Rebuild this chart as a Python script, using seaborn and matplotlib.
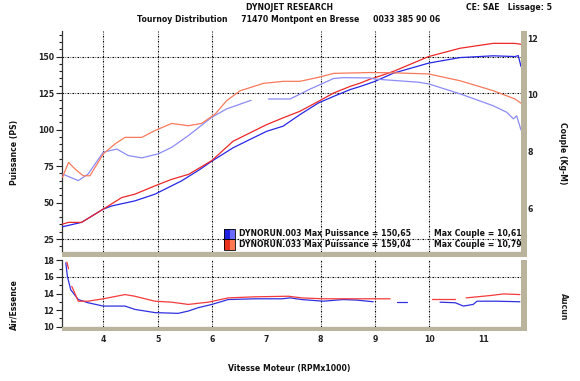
import numpy as np
import pandas as pd
import matplotlib
matplotlib.use("Agg")
import matplotlib.pyplot as plt
import seaborn as sns
from matplotlib.patches import Rectangle
from matplotlib.ticker import MultipleLocator

nan = np.nan

# ---------------- data ----------------
rpm_pw_003 = [3.25, 3.60, 4.0, 4.16, 4.58, 4.95, 5.44, 5.78, 6.0, 6.39, 6.70, 7.01, 7.31, 7.62,
              7.96, 8.24, 8.54, 8.73, 8.91, 9.0, 9.34, 9.99, 10.57, 11.18, 11.58, 11.64, 11.69]
pw_003 = [33.4, 36.4, 45.5, 47.7, 51.1, 55.7, 64.8, 72.7, 78.4, 87.5, 93.2, 98.8, 102.3, 110.2,
          118.2, 122.7, 127.3, 129.5, 131.8, 133.0, 138.6, 145.5, 149.3, 150.5, 150.0, 150.65, 143.2]

rpm_pw_033 = [3.25, 3.36, 3.60, 4.0, 4.34, 4.58, 4.95, 5.26, 5.57, 5.78, 6.0, 6.39, 6.70, 7.01,
              7.31, 7.62, 7.96, 8.24, 8.54, 8.73, 8.91, 9.0, 9.34, 9.99, 10.57, 11.18, 11.58, 11.69]
pw_033 = [35.2, 36.4, 36.4, 45.5, 53.4, 55.7, 61.4, 65.9, 69.3, 73.9, 78.8, 92.0, 97.7, 103.4,
          108.0, 112.5, 119.3, 125.0, 129.5, 131.8, 134.5, 135.5, 139.8, 150.0, 155.7, 159.04, 159.0, 158.4]

rpm_tq_033 = [3.25, 3.36, 3.48, 3.63, 3.755, 4.0, 4.215, 4.40, 4.71, 4.95, 5.26, 5.565, 5.81, 6.06,
              6.27, 6.52, 6.95, 7.31, 7.62, 7.96, 8.24, 8.91, 9.34, 9.99, 10.57, 11.18, 11.58, 11.69]
tq_033 = [7.11, 7.63, 7.40, 7.16, 7.16, 7.93, 8.28, 8.51, 8.51, 8.75, 9.0, 8.92, 9.0, 9.33,
          9.80, 10.15, 10.41, 10.48, 10.48, 10.62, 10.76, 10.79, 10.78, 10.74, 10.50, 10.15, 9.86, 9.71]

rpm_tq_003 = [3.25, 3.54, 3.72, 4.0, 4.25, 4.46, 4.71, 5.01, 5.26, 5.565, 6.0, 6.27, 6.70, 6.72,
              6.85, 7.04, 7.44, 7.81, 8.24, 8.42, 8.91, 9.0, 9.80, 9.99, 10.57, 11.18, 11.43, 11.55,
              11.61, 11.69]
tq_003 = [7.22, 6.99, 7.22, 7.99, 8.10, 7.87, 7.79, 7.93, 8.16, 8.57, 9.22, 9.51, 9.80, 9.81,
          nan, 9.86, 9.86, 10.21, 10.58, 10.61, 10.60, 10.56, 10.45, 10.39, 10.04, 9.62, 9.39, 9.16,
          9.27, 8.77]

rpm_afr_003 = [3.31, 3.34, 3.40, 3.54, 3.72, 4.0, 4.40, 4.58, 4.95, 5.38, 5.565, 5.75, 6.0, 6.30,
               6.79, 7.29, 7.44, 7.65, 8.05, 8.42, 8.67, 8.97, 9.1, 9.40, 9.59, 9.8, 10.20, 10.48,
               10.63, 10.81, 10.88, 11.24, 11.67]
afr_003 = [17.7, 16.05, 14.46, 13.27, 12.88, 12.48, 12.48, 12.08, 11.69, 11.6, 11.88, 12.29, 12.68,
           13.27, 13.36, 13.36, 13.47, 13.27, 13.07, 13.27, 13.2, 13.0, nan, 12.95, 12.95, nan,
           12.95, 12.88, 12.48, 12.68, 13.07, 13.07, 13.0]

rpm_afr_033 = [3.33, 3.36, 3.38, 3.42, 3.54, 3.72, 4.0, 4.40, 4.58, 4.95, 5.26, 5.565, 5.93, 6.30,
               6.79, 7.41, 7.65, 8.05, 8.67, 9.28, 9.6, 10.05, 10.48, 10.58, 10.68, 11.12, 11.37, 11.67]
afr_033 = [17.8, 17.0, nan, 14.86, 13.07, 13.07, 13.36, 13.87, 13.67, 13.07, 12.95, 12.68, 12.95,
           13.47, 13.6, 13.67, 13.47, 13.36, 13.36, 13.36, nan, 13.36, 13.36, nan, 13.47, 13.75,
           13.95, 13.87]

runs = ["DYNORUN.003", "DYNORUN.033"]
max_pw = ["150,65", "159,04"]
max_tq = ["10,61", "10,79"]

x_ticks = [4, 5, 6, 7, 8, 9, 10, 11]
pw_ticks = [25, 50, 75, 100, 125, 150]
tq_ticks = [6, 8, 10, 12]
afr_ticks = [10, 12, 14, 16, 18]

# ---------------- style ----------------
sns.set_theme(style="white")
plt.rcParams["font.family"] = ["DejaVu Sans"]
plt.rcParams["font.weight"] = "bold"
FS = 5.6
BEIGE = "#b9b49b"
C_PW_B, C_PW_R = "#2727e6", "#ec2828"
C_TQ_B, C_TQ_R = "#8c8cf5", "#f87a5c"
C_AF_B, C_AF_R = "#3030e0", "#f43a3a"
GRID = dict(color="black", lw=0.8, ls=(0, (1.5, 1.2, 0.6, 1.2)), zorder=1)

W, H = 580, 381
fig = plt.figure(figsize=(W / 100, H / 100), dpi=100)
fig.patch.set_facecolor("white")


def rect(l, t, r, b):
    return [l / W, 1 - b / H, (r - l) / W, (b - t) / H]


ax = fig.add_axes(rect(62, 31, 521, 252))
ax2 = ax.twinx()
axl = fig.add_axes(rect(62, 260, 521, 327))


def draw(axis, xs, ys, color, lw=0.9):
    df = pd.DataFrame({"x": xs, "y": ys})
    df["seg"] = df["y"].isna().cumsum()
    df = df.dropna()
    sns.lineplot(data=df, x="x", y="y", units="seg", estimator=None, sort=False,
                 color=color, lw=lw, ax=axis, legend=False, zorder=3)
    axis.set_xlabel("")
    axis.set_ylabel("")


draw(ax, rpm_pw_003, pw_003, C_PW_B)
draw(ax, rpm_pw_033, pw_033, C_PW_R)
draw(ax2, rpm_tq_003, tq_003, C_TQ_B)
draw(ax2, rpm_tq_033, tq_033, C_TQ_R)
draw(axl, rpm_afr_003, afr_003, C_AF_B)
draw(axl, rpm_afr_033, afr_033, C_AF_R)

XL = (3.24, 11.69)
for a in (ax, ax2, axl):
    a.set_xlim(*XL)
    a.set_facecolor("none")
ax.set_ylim(16.1, 167.5)
ax2.set_ylim(4.48, 12.25)
axl.set_ylim(9.95, 18.05)

# grid lines
grid_x = [4, 5, 6, 8, 9, 10]
for gx in grid_x:
    ax.axvline(gx, **GRID)
    axl.axvline(gx, **GRID)
for gy in [25, 125, 150]:
    ax.axhline(gy, **GRID)
axl.axhline(16, **GRID)

# spines
for a in (ax, ax2, axl):
    for s in a.spines.values():
        s.set_visible(False)
for a in (ax, axl):
    a.spines["left"].set_visible(True)
    a.spines["left"].set_color("#333333")
    a.spines["left"].set_linewidth(0.9)
    a.spines["bottom"].set_visible(True)
    a.spines["bottom"].set_color("#333333")
    a.spines["bottom"].set_linewidth(0.8)

# beige 3D borders
for (l, t, r, b) in [(521, 31, 527, 257), (62, 252, 527, 257), (521, 260, 527, 331), (62, 327, 527, 331)]:
    fig.patches.append(Rectangle((l / W, 1 - b / H), (r - l) / W, (b - t) / H,
                                 transform=fig.transFigure, facecolor=BEIGE, edgecolor="none", zorder=0))

# ticks
ax.set_xticks([])
ax.yaxis.set_major_locator(plt.FixedLocator(pw_ticks))
ax.yaxis.set_minor_locator(MultipleLocator(5))
ax.tick_params(axis="y", which="major", direction="out", length=4.5, width=0.8, pad=1,
               labelsize=FS, colors="#222222", left=True)
ax.tick_params(axis="y", which="minor", direction="out", length=2.5, width=0.8, left=True, colors="#222222")

ax2.yaxis.set_major_locator(plt.FixedLocator(tq_ticks))
ax2.yaxis.set_minor_locator(MultipleLocator(0.5))
ax2.tick_params(axis="y", which="major", direction="out", length=3.5, width=0.8, pad=1,
                labelsize=FS, colors="#222222", right=True)
ax2.tick_params(axis="y", which="minor", direction="out", length=2.5, width=0.8, right=True, colors="#222222")
ax2.set_xticks([])

axl.xaxis.set_major_locator(plt.FixedLocator(x_ticks))
axl.xaxis.set_minor_locator(MultipleLocator(0.2))
axl.yaxis.set_major_locator(plt.FixedLocator(afr_ticks))
axl.yaxis.set_minor_locator(MultipleLocator(1))
axl.tick_params(axis="x", which="major", direction="out", length=2.5, width=0.8, pad=3,
                labelsize=FS, colors="#222222", bottom=True)
axl.tick_params(axis="x", which="minor", direction="out", length=1.5, width=0.8, bottom=True, colors="#222222")
axl.tick_params(axis="y", which="major", direction="out", length=4.5, width=0.8, pad=1,
                labelsize=FS, colors="#222222", left=True)
axl.tick_params(axis="y", which="minor", direction="out", length=2.5, width=0.8, left=True, colors="#222222")
for t in ax.get_yticklabels() + ax2.get_yticklabels() + axl.get_yticklabels() + axl.get_xticklabels():
    t.set_fontweight("bold")

# ---------------- texts ----------------
def ftext(x, y, s, **kw):
    kw.setdefault("fontsize", FS)
    kw.setdefault("fontweight", "bold")
    kw.setdefault("color", "#111111")
    fig.text(x / W, 1 - y / H, s, **kw)


ftext(290, 7, "DYNOJET RESEARCH", ha="center", va="center")
ftext(289, 20, "Tournoy Distribution     71470 Montpont en Bresse     0033 385 90 06",
      ha="center", va="center")
ftext(509, 7, "CE: SAE   Lissage: 5", ha="center", va="center")
ftext(14, 152, "Puissance (PS)", rotation=90, ha="center", va="center")
ftext(563, 153, "Couple (Kg-M)", rotation=-90, ha="center", va="center")
ftext(14, 305, "Air/Essence", rotation=90, ha="center", va="center")
ftext(563, 307, "Aucun", rotation=-90, ha="center", va="center", color="#222222")
ftext(289, 368, "Vitesse Moteur (RPMx1000)", ha="center", va="center")

# legend block
leg_cols = [("#1f1fe0", "#6a6aff"), ("#e8301c", "#ff7a52")]
for i, (run, p, q) in enumerate(zip(runs, max_pw, max_tq)):
    top = 228.5 + i * 10.5
    for j, c in enumerate(leg_cols[i]):
        fig.patches.append(Rectangle(((224 + j * 5.5) / W, 1 - (top + 10.5) / H), 5.5 / W, 10.5 / H,
                                     transform=fig.transFigure, facecolor=c, edgecolor="none", zorder=5))
    fig.patches.append(Rectangle((224 / W, 1 - (top + 10.5) / H), 11 / W, 10.5 / H,
                                 transform=fig.transFigure, facecolor="none", edgecolor="black",
                                 lw=0.6, zorder=6))
    ftext(239, top + 5.2, f"{run} Max Puissance = {p}", ha="left", va="center")
    ftext(434, top + 5.2, f"Max Couple = {q}", ha="left", va="center")

fig.savefig("out.png", dpi=100)
